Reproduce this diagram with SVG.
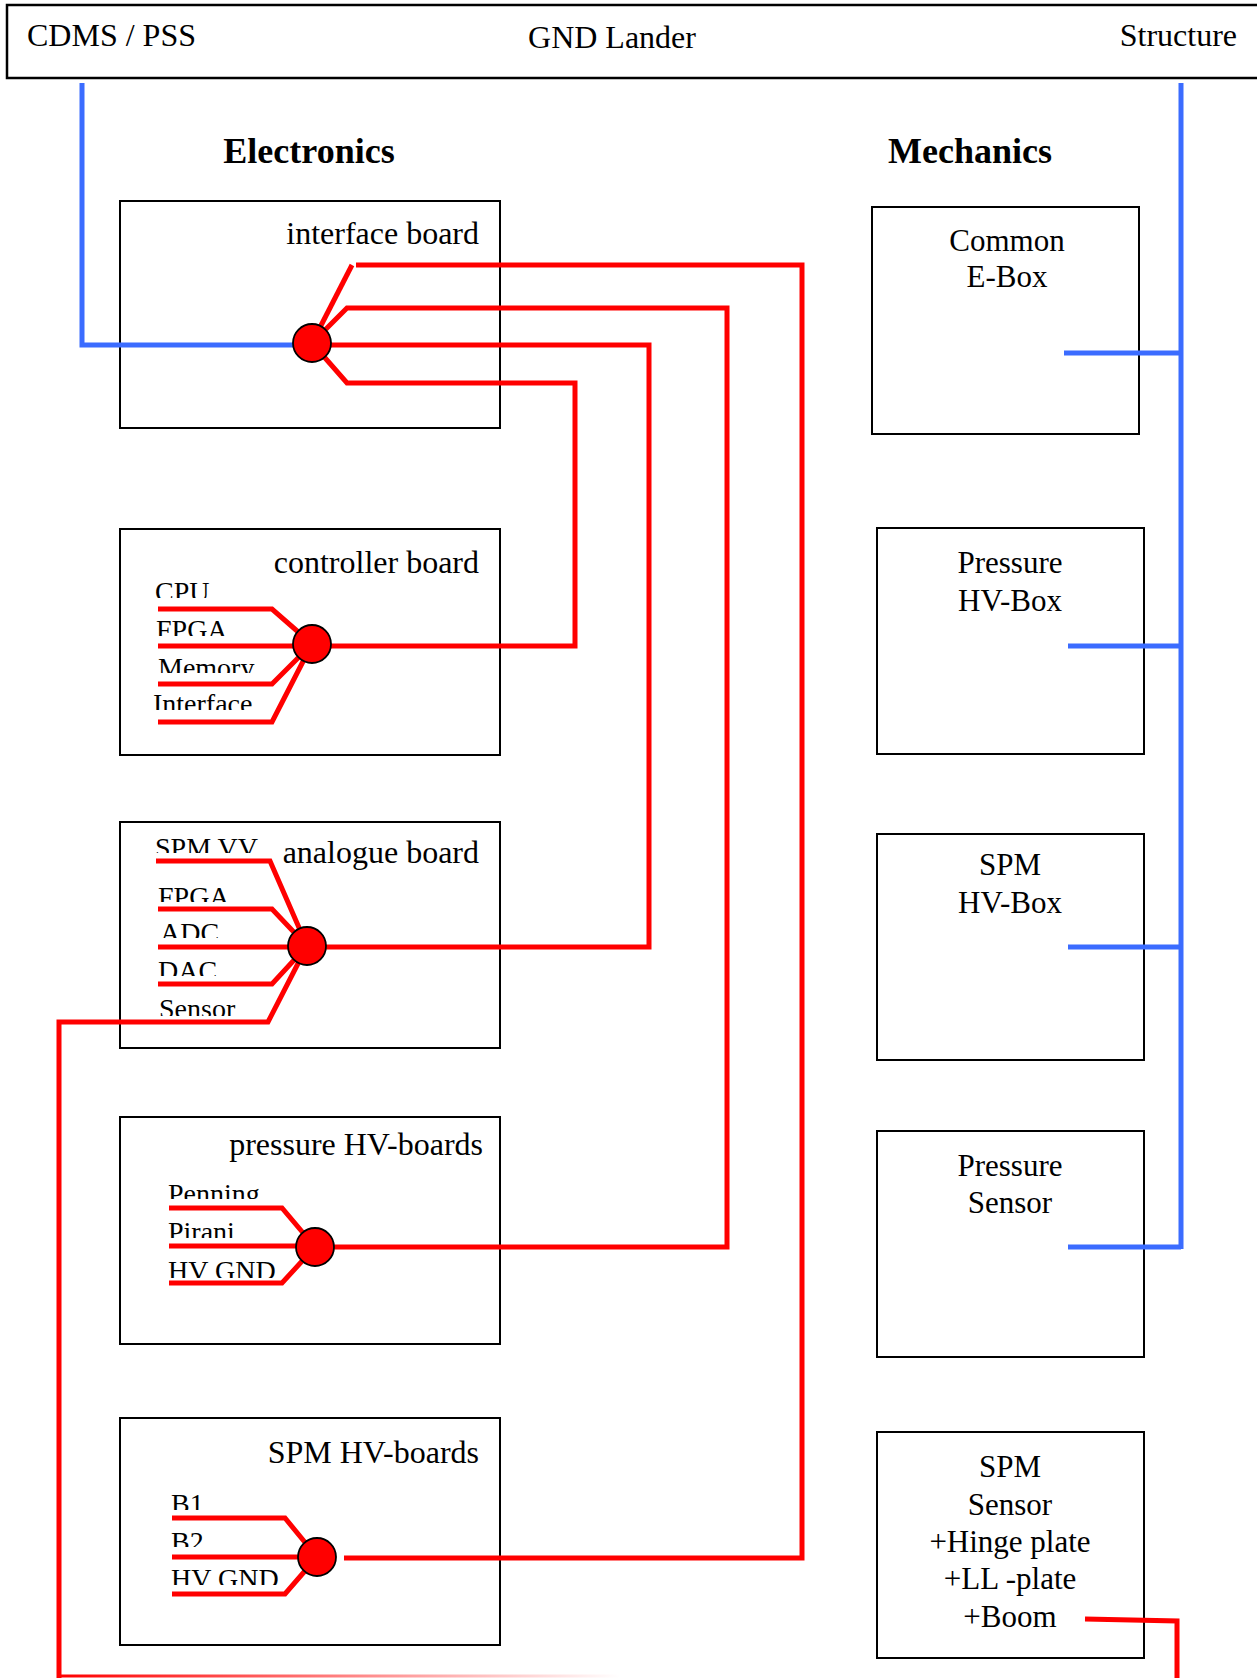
<svg xmlns="http://www.w3.org/2000/svg" width="1257" height="1678" viewBox="0 0 1257 1678">
<style>
.box{fill:#fff;stroke:#000;stroke-width:2}
.t{font-family:"Liberation Serif","Times New Roman",serif;fill:#000}
.big{font-size:32px}
.mech{font-size:31px;text-anchor:middle}
.lab{font-size:28px}
.hd{font-size:36px;font-weight:bold;text-anchor:middle}
.red{fill:none;stroke:#ff0000;stroke-width:5;stroke-linejoin:miter}
.blue{fill:none;stroke:#3b6cff;stroke-width:5}
.dot{fill:#ff0000;stroke:#000;stroke-width:1.8}
</style>
<defs>
<linearGradient id="fade" gradientUnits="userSpaceOnUse" x1="59" y1="0" x2="620" y2="0">
<stop offset="0" stop-color="#ff0000"/><stop offset="1" stop-color="#ff0000" stop-opacity="0"/>
</linearGradient>
<clipPath id="c1"><rect x="0" y="0" width="600" height="598"/></clipPath>
<clipPath id="c2"><rect x="0" y="0" width="600" height="636"/></clipPath>
<clipPath id="c3"><rect x="0" y="0" width="600" height="673"/></clipPath>
<clipPath id="c4"><rect x="0" y="0" width="600" height="710"/></clipPath>
<clipPath id="c5"><rect x="0" y="0" width="600" height="853"/></clipPath>
<clipPath id="c6"><rect x="0" y="0" width="600" height="902"/></clipPath>
<clipPath id="c7"><rect x="0" y="0" width="600" height="938"/></clipPath>
<clipPath id="c8"><rect x="0" y="0" width="600" height="976"/></clipPath>
<clipPath id="c9"><rect x="0" y="0" width="600" height="1016"/></clipPath>
<clipPath id="c10"><rect x="0" y="0" width="600" height="1199"/></clipPath>
<clipPath id="c11"><rect x="0" y="0" width="600" height="1238"/></clipPath>
<clipPath id="c12"><rect x="0" y="0" width="600" height="1278"/></clipPath>
<clipPath id="c13"><rect x="0" y="0" width="600" height="1510"/></clipPath>
<clipPath id="c14"><rect x="0" y="0" width="600" height="1547"/></clipPath>
<clipPath id="c15"><rect x="0" y="0" width="600" height="1585"/></clipPath>
</defs>
<rect width="1257" height="1678" fill="#fff"/>

<g id="gnd-lander">
<rect x="7" y="5" width="1262" height="73" fill="#fff" stroke="#000" stroke-width="2.5"/>
<text class="t big" x="27" y="46">CDMS / PSS</text>
<text class="t big" x="612" y="48" text-anchor="middle">GND Lander</text>
<text class="t big" x="1237" y="46" text-anchor="end">Structure</text>
</g>

<g id="headings">
<text class="t hd" x="309" y="163">Electronics</text>
<text class="t hd" x="970" y="163">Mechanics</text>
</g>

<g id="interface-board">
<rect class="box" x="120" y="201" width="380" height="227"/>
<text class="t big" x="479" y="244" text-anchor="end">interface board</text>
</g>
<g id="controller-board">
<rect class="box" x="120" y="529" width="380" height="226"/>
<text class="t big" x="479" y="573" text-anchor="end">controller board</text>
<text class="t lab" x="155" y="601" clip-path="url(#c1)">CPU</text>
<text class="t lab" x="156" y="639" clip-path="url(#c2)">FPGA</text>
<text class="t lab" x="158" y="677" clip-path="url(#c3)">Memory</text>
<text class="t lab" x="153" y="713" clip-path="url(#c4)">Interface</text>
</g>
<g id="analogue-board">
<rect class="box" x="120" y="822" width="380" height="226"/>
<text class="t big" x="479" y="863" text-anchor="end">analogue board</text>
<text class="t lab" x="155" y="857" clip-path="url(#c5)">SPM VV</text>
<text class="t lab" x="158" y="906" clip-path="url(#c6)">FPGA</text>
<text class="t lab" x="160" y="942" clip-path="url(#c7)">ADC</text>
<text class="t lab" x="158" y="980" clip-path="url(#c8)">DAC</text>
<text class="t lab" x="159" y="1018" clip-path="url(#c9)">Sensor</text>
</g>
<g id="pressure-hv-boards">
<rect class="box" x="120" y="1117" width="380" height="227"/>
<text class="t big" x="483" y="1155" text-anchor="end">pressure HV-boards</text>
<text class="t lab" x="168" y="1203" clip-path="url(#c10)">Penning</text>
<text class="t lab" x="168" y="1241" clip-path="url(#c11)">Pirani</text>
<text class="t lab" x="168" y="1280" clip-path="url(#c12)">HV GND</text>
</g>
<g id="spm-hv-boards">
<rect class="box" x="120" y="1418" width="380" height="227"/>
<text class="t big" x="479" y="1463" text-anchor="end">SPM HV-boards</text>
<text class="t lab" x="171" y="1513" clip-path="url(#c13)">B1</text>
<text class="t lab" x="171" y="1551" clip-path="url(#c14)">B2</text>
<text class="t lab" x="171" y="1588" clip-path="url(#c15)">HV GND</text>
</g>

<g id="common-e-box">
<rect class="box" x="872" y="207" width="267" height="227"/>
<text class="t mech" x="1007" y="251">Common</text>
<text class="t mech" x="1007" y="287">E-Box</text>
</g>
<g id="pressure-hv-box">
<rect class="box" x="877" y="528" width="267" height="226"/>
<text class="t mech" x="1010" y="573">Pressure</text>
<text class="t mech" x="1010" y="611">HV-Box</text>
</g>
<g id="spm-hv-box">
<rect class="box" x="877" y="834" width="267" height="226"/>
<text class="t mech" x="1010" y="875">SPM</text>
<text class="t mech" x="1010" y="913">HV-Box</text>
</g>
<g id="pressure-sensor">
<rect class="box" x="877" y="1131" width="267" height="226"/>
<text class="t mech" x="1010" y="1176">Pressure</text>
<text class="t mech" x="1010" y="1213">Sensor</text>
</g>
<g id="spm-sensor">
<rect class="box" x="877" y="1432" width="267" height="226"/>
<text class="t mech" x="1010" y="1477">SPM</text>
<text class="t mech" x="1010" y="1515">Sensor</text>
<text class="t mech" x="1010" y="1552">+Hinge plate</text>
<text class="t mech" x="1010" y="1589">+LL -plate</text>
<text class="t mech" x="1010" y="1627">+Boom</text>
</g>

<g id="connectors">
<polyline class="blue" points="82,83 82,345 312,345"/>
<polyline class="blue" points="1181,83 1181,1249"/>
<line class="blue" x1="1064" y1="353" x2="1181" y2="353"/>
<line class="blue" x1="1068" y1="646" x2="1181" y2="646"/>
<line class="blue" x1="1068" y1="947" x2="1181" y2="947"/>
<line class="blue" x1="1068" y1="1247" x2="1181" y2="1247"/>

<line class="red" x1="312" y1="343" x2="352" y2="265"/>
<polyline class="red" points="356,265 802,265 802,1558 344,1558"/>
<polyline class="red" points="312,343 347,308 727,308 727,1247 315,1247"/>
<polyline class="red" points="312,345 649,345 649,947 307,947"/>
<polyline class="red" points="312,343 347,383 575,383 575,646 312,646"/>

<polyline class="red" points="158,609 272,609 312,644"/>
<line class="red" x1="158" y1="646" x2="312" y2="646"/>
<polyline class="red" points="158,684 272,684 312,644"/>
<polyline class="red" points="158,722 272,722 312,644"/>

<polyline class="red" points="156,861 270,861 307,946"/>
<polyline class="red" points="158,909 272,909 307,946"/>
<line class="red" x1="158" y1="947" x2="307" y2="947"/>
<polyline class="red" points="158,984 272,984 307,946"/>
<polyline class="red" points="307,946 268,1022 59,1022 59,1678"/>
<line x1="59" y1="1676" x2="620" y2="1676" stroke="url(#fade)" stroke-width="3"/>

<polyline class="red" points="169,1208 282,1208 315,1247"/>
<line class="red" x1="169" y1="1246" x2="315" y2="1246"/>
<polyline class="red" points="169,1283 282,1283 315,1247"/>

<polyline class="red" points="172,1518 285,1518 317,1557"/>
<line class="red" x1="172" y1="1557" x2="317" y2="1557"/>
<polyline class="red" points="172,1594 285,1594 317,1557"/>

<polyline class="red" points="1085,1619 1177,1621 1177,1678"/>
</g>

<g id="junctions">
<circle class="dot" cx="312" cy="343" r="19"/>
<circle class="dot" cx="312" cy="644" r="19"/>
<circle class="dot" cx="307" cy="946" r="19"/>
<circle class="dot" cx="315" cy="1247" r="19"/>
<circle class="dot" cx="317" cy="1557" r="19"/>
</g>
</svg>
